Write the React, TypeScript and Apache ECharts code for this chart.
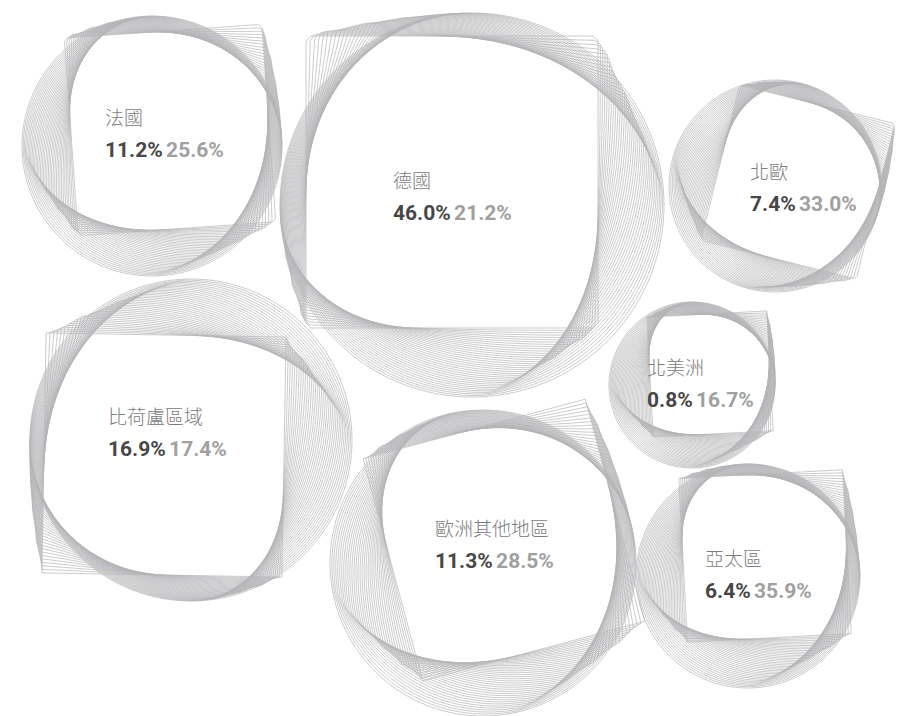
import React, { useEffect, useRef } from "react";
import * as echarts from "echarts";

// Regions and their values
const regions = ["法國", "德國", "北歐", "比荷盧區域", "北美洲", "歐洲其他地區", "亞太區"];
const shareValues = [11.2, 46.0, 7.4, 16.9, 0.8, 11.3, 6.4];
const growthValues = [25.6, 21.2, 33.0, 17.4, 16.7, 28.5, 35.9];

// Layout (pixel space of the 903x716 canvas)
const circleX = [152, 472, 775, 191, 692, 483, 748];
const circleY = [146, 205, 186, 440, 385, 563, 576];
const circleR = [130, 192, 106, 161, 83, 153, 112];
const squareX = [170, 452, 798, 164, 710, 504, 765];
const squareY = [130, 182, 182, 455, 374, 540, 556];
const squareH = [99, 146, 80, 120, 60, 115, 82];
const squareRot = [-4, 0, 14, 1, -3, -15, -3];
const rotSpread = [10, 8, 10, 8, 10, 10, 10];
const twist = [40, 35, 40, 35, 40, 40, 40];
const labelX = [105, 393, 750, 108, 647, 435, 705];
const labelY = [116, 179, 170, 415, 366, 527, 557];

const FRAMES = 36;
const SAMPLES = 180;

function renderBubble(params: any, api: any) {
  const i = api.value(0);
  const c = api.coord([circleX[i], circleY[i]]);
  const s = api.coord([squareX[i], squareY[i]]);
  const R = api.size([circleR[i], 0])[0];
  const H = api.size([squareH[i], 0])[0];
  const children: any[] = [];
  const tw = (twist[i] * Math.PI) / 180;
  for (let f = 0; f < FRAMES; f++) {
    const t = f / (FRAMES - 1);
    const alpha = ((squareRot[i] + (1 - t) * rotSpread[i]) * Math.PI) / 180;
    const pts: number[][] = [];
    for (let k = 0; k <= SAMPLES; k++) {
      const u = (k / SAMPLES) * Math.PI * 2;
      const th = u + tw;
      const cxp = c[0] + R * Math.cos(th);
      const cyp = c[1] + R * Math.sin(th);
      const loc = u - alpha;
      const r = H / Math.max(Math.abs(Math.cos(loc)), Math.abs(Math.sin(loc)));
      const sxp = s[0] + r * Math.cos(u);
      const syp = s[1] + r * Math.sin(u);
      pts.push([(1 - t) * cxp + t * sxp, (1 - t) * cyp + t * syp]);
    }
    children.push({
      type: "polyline",
      shape: { points: pts },
      style: { stroke: "#b4b5b8", lineWidth: 0.7, fill: "none" },
      silent: true,
    });
  }
  const lp = api.coord([labelX[i], labelY[i]]);
  children.push({
    type: "text",
    x: lp[0],
    y: lp[1],
    style: {
      text: regions[i],
      fill: "#7c7c7c",
      font: '300 19px "Noto Sans CJK TC", "Noto Sans", sans-serif',
      verticalAlign: "middle",
      align: "left",
    },
  });
  children.push({
    type: "text",
    x: lp[0],
    y: lp[1] + 34,
    style: {
      text: `{a|${shareValues[i].toFixed(1)}%} {b|${growthValues[i].toFixed(1)}%}`,
      verticalAlign: "middle",
      align: "left",
      rich: {
        a: { fill: "#474747", fontSize: 21, fontWeight: "bold", fontFamily: "Roboto" },
        b: { fill: "#a0a0a0", fontSize: 21, fontWeight: "bold", fontFamily: "Roboto" },
      },
    },
  });
  return { type: "group", children };
}

export default function App() {
  const ref = useRef<HTMLDivElement>(null);
  useEffect(() => {
    const chart = echarts.init(ref.current!, null, { renderer: "svg" });
    chart.setOption({
      animation: false,
      backgroundColor: "#ffffff",
      grid: { left: 0, right: 0, top: 0, bottom: 0 },
      xAxis: { type: "value", min: 0, max: 903, show: false },
      yAxis: { type: "value", min: 0, max: 716, inverse: true, show: false },
      series: [
        {
          type: "custom",
          renderItem: renderBubble,
          data: regions.map((_, i) => [i]),
          clip: false,
        },
      ],
    });
    return () => chart.dispose();
  }, []);
  return (
    <div
      ref={ref}
      style={{ position: "fixed", left: 0, top: 0, width: 903, height: 716 }}
    />
  );
}
